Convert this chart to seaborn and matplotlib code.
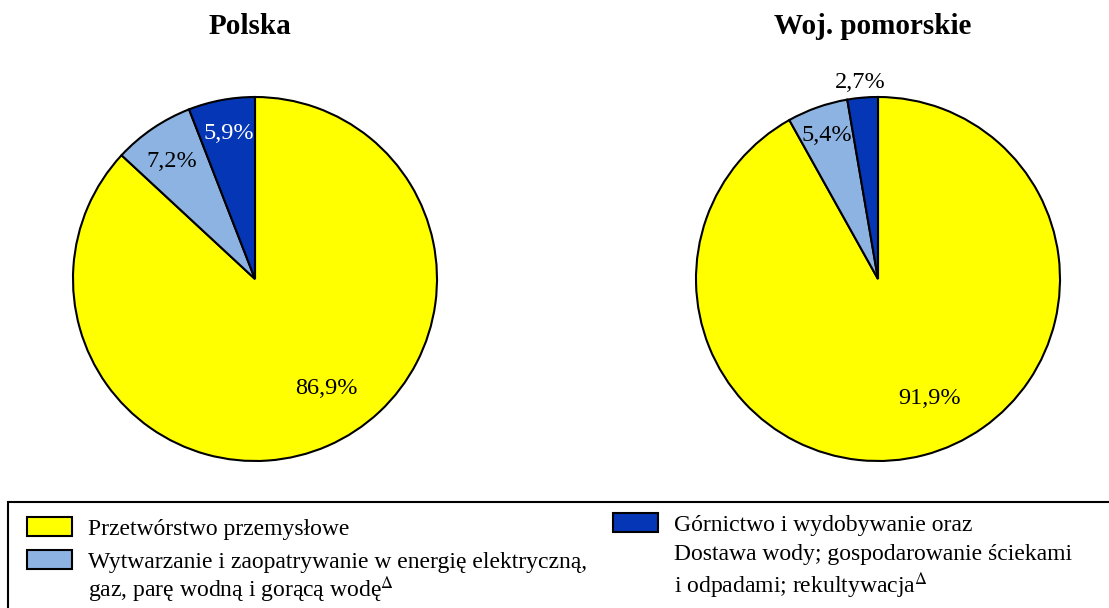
import matplotlib
matplotlib.use("Agg")
import matplotlib.pyplot as plt
from matplotlib.patches import Patch, Rectangle
from matplotlib.text import Annotation
import seaborn as sns

# Data (percent shares)
categories = [
    "Przetwórstwo przemysłowe",
    "Wytwarzanie i zaopatrywanie w energię elektryczną, gaz, parę wodną i gorącą wodę",
    "Górnictwo i wydobywanie oraz Dostawa wody; gospodarowanie ściekami i odpadami; rekultywacja",
]
polska = [86.9, 7.2, 5.9]
pomorskie = [91.9, 5.4, 2.7]
titles = ["Polska", "Woj. pomorskie"]

# legend text broken into lines as in the reference
legend_lines = [
    ["Przetwórstwo przemysłowe"],
    ["Wytwarzanie i zaopatrywanie w energię elektryczną,",
     "gaz, parę wodną i gorącą wodę$^{\\Delta}$"],
    ["Górnictwo i wydobywanie oraz",
     "Dostawa wody; gospodarowanie ściekami",
     "i odpadami; rekultywacja$^{\\Delta}$"],
]

colors = ["#FFFF00", "#8DB3E2", "#0536B5"]

# label placement (in pie-radius units) and label colours
label_pos = [
    [(0.393, -0.604), (-0.456, 0.648), (-0.146, 0.802)],
    [(0.286, -0.654), (-0.28, 0.786), (-0.096, 1.077)],
]
label_colors = [["black", "black", "white"], ["black", "black", "black"]]

sns.set_theme(style="white")
plt.rcParams["font.family"] = ["Liberation Serif", "DejaVu Serif"]
plt.rcParams["mathtext.fontset"] = "stix"
plt.rcParams["text.color"] = "black"

W, H = 1109, 608
fig = plt.figure(figsize=(W / 100, H / 100), dpi=100)

R = 182
centers = [(255, 279), (878, 279)]
datasets = [polska, pomorskie]

for i, (cx, cy) in enumerate(centers):
    ax = fig.add_axes([(cx - R) / W, (H - cy - R) / H, 2 * R / W, 2 * R / H])
    wedges, texts, autotexts = ax.pie(
        datasets[i],
        colors=colors,
        startangle=90,
        counterclock=False,
        autopct=lambda p: f"{p:.1f}%".replace(".", ","),
        textprops=dict(fontsize=17.5),
        wedgeprops=dict(edgecolor="black", linewidth=1.5),
    )
    for t, pos, c in zip(autotexts, label_pos[i], label_colors[i]):
        t.set_position(pos)
        t.set_color(c)
        t.set_ha("center")
        t.set_va("center")
    ax.set_xlim(-1, 1)
    ax.set_ylim(-1, 1)
    ax.set_aspect("equal")
    ax.axis("off")
    fig.text((cx - 5) / W, 1 - 26 / H, titles[i], ha="center", va="center",
             fontsize=21, fontweight="bold")

# legend: first lines go in the legends, continuation lines hang below them
FS = 17
common = dict(loc="upper left", frameon=False, fontsize=FS, borderpad=0,
              borderaxespad=0, handlelength=1.9, handleheight=0.85,
              handletextpad=0.68, labelspacing=0.45, labelcolor="black")
handles = [Patch(facecolor=c, edgecolor="black", lw=1.5) for c in colors]
leg1 = fig.legend(handles[:2], [legend_lines[0][0], legend_lines[1][0]],
                  bbox_to_anchor=(27 / W, 1 - 517 / H), **common)
leg2 = fig.legend(handles[2:], [legend_lines[2][0]],
                  bbox_to_anchor=(613 / W, 1 - 513 / H), **common)


def hang(ref, text, gap):
    ann = Annotation(text, xy=(0, 0), xycoords=ref, xytext=(0, -gap),
                     textcoords="offset pixels", ha="left", va="bottom",
                     fontsize=FS, color="black", zorder=10)
    fig.add_artist(ann)
    return ann


hang(leg1.get_texts()[1], legend_lines[1][1], 32)
a = hang(leg2.get_texts()[0], legend_lines[2][1], 29.5)
hang(a, legend_lines[2][2], 35.5)

fig.add_artist(Rectangle((8 / W, -0.1), 1.1, (H - 502) / H + 0.1,
                         transform=fig.transFigure, fill=False,
                         edgecolor="black", linewidth=1.5))

fig.savefig("out.png", dpi=100)
